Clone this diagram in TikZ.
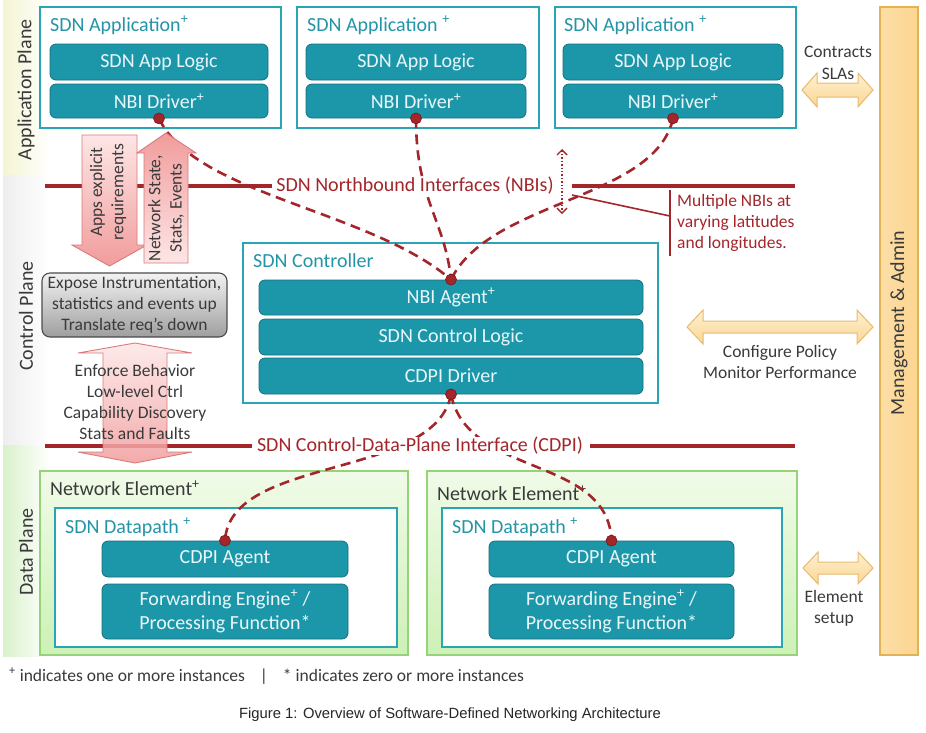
\documentclass[tikz,border=0pt]{standalone}
\usepackage{fontspec}
\setmainfont{Carlito}
\newfontfamily\capfont{Liberation Sans}
\usetikzlibrary{arrows.meta}

\definecolor{tealfill}{HTML}{1C97A9}
\definecolor{tealdark}{HTML}{14707F}
\definecolor{tealline}{HTML}{2AA5B5}
\definecolor{tealtext}{HTML}{2395A7}
\definecolor{boxtext}{HTML}{EAF7FA}
\definecolor{nbired}{HTML}{A3262B}
\definecolor{dotline}{HTML}{7A1518}
\definecolor{pinkdark}{HTML}{F19C9C}
\definecolor{pinklight}{HTML}{FDE6E6}
\definecolor{pinkline}{HTML}{D97A7A}
\definecolor{mgmtfill}{HTML}{FCD590}
\definecolor{mgmtline}{HTML}{E2B255}
\definecolor{orlight}{HTML}{FEF0D4}
\definecolor{orfill}{HTML}{FBD690}
\definecolor{orline}{HTML}{E6BA70}
\definecolor{nelight}{HTML}{F0FBE8}
\definecolor{nedark}{HTML}{CDF1B6}
\definecolor{neline}{HTML}{95D27A}
\definecolor{appband}{HTML}{F4F5D2}
\definecolor{ctrlband}{HTML}{EEEEEE}
\definecolor{databand}{HTML}{D9F2CA}
\definecolor{txtgray}{HTML}{3A3A3A}

\newcommand{\bigtxt}{\fontsize{20}{24}\selectfont}
\newcommand{\smalltxt}{\fontsize{17.5}{21.3}\selectfont}

\begin{document}
\begin{tikzpicture}[ x = 1pt, y = -1pt,
		appbox/.style = { draw = tealline, line width = 1.8pt, fill = white, inner sep = 0 },
		tealbox/.style = { draw = tealdark, fill = tealfill, line width = 0.8pt, rounded corners = 6pt, text = boxtext, font = \bigtxt, align = center, minimum height = 36pt, inner sep = 0 },
		title/.style = { anchor = west, font = \bigtxt, text = tealtext, inner sep = 0 },
		nebox/.style = { draw = neline, line width = 1.2pt, top color = nelight, bottom color = nedark, inner sep = 0 },
		planelabel/.style = { rotate = 90, font = \bigtxt, text = txtgray },
		note/.style = { font = \smalltxt, text = txtgray, align = center, inner sep = 0 },
		ifline/.style = { nbired, line width = 4pt },
		iftext/.style = { font = \bigtxt, text = nbired, fill = white, inner xsep = 4pt, inner ysep = 0pt },
		nbilink/.style = { nbired, line width = 2.6pt, dash pattern = on 10pt off 6pt },
		pinkarrow/.style = { draw = pinkline, line width = 0.9pt },
		orarrow/.style = { draw = orline, line width = 1pt, top color = orlight, bottom color = orfill },
		dotend/.style = { fill = nbired, draw = dotline, line width = 0.6pt }
	]
	\useasboundingbox ( 0, 0 ) rectangle ( 926, 732 );

	% planes
	\shade [ left color = appband, right color = white ] ( 3, 0 ) rectangle ( 50, 175 );
	\shade [ left color = ctrlband, right color = white ] ( 3, 175 ) rectangle ( 50, 445 );
	\shade [ left color = databand, right color = white ] ( 3, 445 ) rectangle ( 50, 656 );
	\node [ planelabel ] (appplane) at ( 26, 90 ) {Application Plane};
	\node [ planelabel ] (ctrlplane) at ( 26, 316 ) {Control Plane};
	\node [ planelabel ] (dataplane) at ( 26, 552 ) {Data Plane};

	% management
	\node [ draw = mgmtline, line width = 1.2pt, left color = orfill!80!white, right color = mgmtfill, minimum width = 38pt, minimum height = 648pt, inner sep = 0 ] (mgmt) at ( 899, 331 ) {};
	\node [ planelabel ] (mgmtlabel) at ( 899, 323 ) {Management \& Admin};

	% applications
	\node [ appbox, minimum width = 241pt, minimum height = 121pt ] (app1) at ( 160.5, 67.5 ) {};
	\node [ title ] (app1title) at ( 50, 25 ) {SDN Application\textsuperscript{+}};
	\node [ tealbox, minimum width = 218pt ] (logic1) at ( 159, 62 ) {SDN App Logic};
	\node [ tealbox, minimum width = 218pt, minimum height = 34pt ] (drv1) at ( 159, 101 ) {NBI Driver\textsuperscript{+}};

	\node [ appbox, minimum width = 242pt, minimum height = 121pt ] (app2) at ( 418, 67.5 ) {};
	\node [ title ] (app2title) at ( 307, 25 ) {SDN Application \textsuperscript{+}};
	\node [ tealbox, minimum width = 220pt ] (logic2) at ( 416, 62 ) {SDN App Logic};
	\node [ tealbox, minimum width = 220pt, minimum height = 34pt ] (drv2) at ( 416, 101 ) {NBI Driver\textsuperscript{+}};

	\node [ appbox, minimum width = 241pt, minimum height = 121pt ] (app3) at ( 675.5, 67.5 ) {};
	\node [ title ] (app3title) at ( 564, 25 ) {SDN Application \textsuperscript{+}};
	\node [ tealbox, minimum width = 220pt ] (logic3) at ( 673, 62 ) {SDN App Logic};
	\node [ tealbox, minimum width = 220pt, minimum height = 34pt ] (drv3) at ( 673, 101 ) {NBI Driver\textsuperscript{+}};

	% controller
	\node [ appbox, minimum width = 415pt, minimum height = 160pt ] (ctrl) at ( 450.5, 323 ) {};
	\node [ title ] (ctrltitle) at ( 253, 261 ) {SDN Controller};
	\node [ tealbox, minimum width = 384pt, minimum height = 35pt ] (nbiagent) at ( 451, 297.5 ) {NBI Agent\textsuperscript{+}};
	\node [ tealbox, minimum width = 384pt ] (ctrllogic) at ( 451, 337 ) {SDN Control Logic};
	\node [ tealbox, minimum width = 384pt ] (cdpidrv) at ( 451, 376 ) {CDPI Driver};

	% network elements
	\node [ nebox, minimum width = 368pt, minimum height = 184pt ] (ne1) at ( 224, 563 ) {};
	\node [ title, text = txtgray ] (ne1title) at ( 50, 488 ) {Network Element\textsuperscript{+}};
	\node [ appbox, minimum width = 342pt, minimum height = 139pt ] (dp1) at ( 226, 577.5 ) {};
	\node [ title ] (dp1title) at ( 65, 527 ) {SDN Datapath \textsuperscript{+}};
	\node [ tealbox, minimum width = 246pt ] (agent1) at ( 225, 559 ) {CDPI Agent};
	\node [ tealbox, minimum width = 246pt, minimum height = 55pt ] (fwd1) at ( 225, 611.5 ) {Forwarding Engine\textsuperscript{+} /\\Processing Function*};

	\node [ nebox, minimum width = 370pt, minimum height = 184pt ] (ne2) at ( 612, 563 ) {};
	\node [ title, text = txtgray ] (ne2title) at ( 437, 493 ) {Network Element\textsuperscript{+}};
	\node [ appbox, minimum width = 340pt, minimum height = 139pt ] (dp2) at ( 612, 577.5 ) {};
	\node [ title ] (dp2title) at ( 452, 527 ) {SDN Datapath \textsuperscript{+}};
	\node [ tealbox, minimum width = 245pt ] (agent2) at ( 611.5, 559 ) {CDPI Agent};
	\node [ tealbox, minimum width = 245pt, minimum height = 55pt ] (fwd2) at ( 611.5, 611.5 ) {Forwarding Engine\textsuperscript{+} /\\Processing Function*};

	% NBI links
	\draw [ nbilink ] (drv1.south) .. controls ( 195, 195 ) and ( 370, 210 ) .. (nbiagent.north);
	\draw [ nbilink ] (drv2.south) .. controls ( 416, 200 ) and ( 445, 220 ) .. (nbiagent.north);
	\draw [ nbilink ] (drv3.south) .. controls ( 655, 200 ) and ( 490, 200 ) .. (nbiagent.north);

	% CDPI links
	\draw [ nbilink ] (cdpidrv.south) .. controls ( 435, 480 ) and ( 230, 455 ) .. (agent1.north);
	\draw [ nbilink ] (cdpidrv.south) .. controls ( 468, 478 ) and ( 608, 455 ) .. (agent2.north);

	% interfaces
	\draw [ ifline ] ( 45, 186 ) -- ( 274, 186 );
	\draw [ ifline ] ( 572, 186 ) -- ( 795, 186 );
	\node [ iftext ] (nbitext) at ( 415, 186 ) {SDN Northbound Interfaces (NBIs)};
	\draw [ ifline ] ( 45, 446 ) -- ( 252, 446 );
	\draw [ ifline ] ( 590, 446 ) -- ( 795, 446 );
	\node [ iftext ] (cdpitext) at ( 420, 446 ) {SDN Control-Data-Plane Interface (CDPI)};

	% end points
	\foreach \n/\a in {drv1/south, drv2/south, drv3/south, nbiagent/north, cdpidrv/south, agent1/north, agent2/north}
		\draw [ dotend ] (\n.\a) circle [ radius = 5.5pt ];

	% multiple NBIs
	\coordinate (nbitop) at ( 562, 149 );
	\coordinate (nbibot) at ( 562, 214 );
	\draw [ nbired, line width = 1.4pt, dotted, {Straight Barb[length = 5pt, width = 10pt]}-{Straight Barb[length = 5pt, width = 10pt]} ] (nbitop) -- (nbibot);
	\coordinate (calltip) at ( 572, 195 );
	\coordinate (callmid) at ( 670, 216 );
	\draw [ nbired, line width = 1.6pt ] (calltip) -- (callmid);
	\draw [ nbired, line width = 1.6pt ] ( 670, 190 ) -- ( 670, 256 );
	\node [ note, text = nbired, anchor = west, align = left ] (multinbi) at ( 677, 223 ) {Multiple NBIs at\\varying latitudes\\and longitudes.};

	% pink arrows
	\draw [ pinkarrow, top color = pinklight, bottom color = pinkdark ] ( 82, 135 ) -- ( 137, 135 ) -- ( 137, 245 ) -- ( 147, 245 ) -- ( 109.5, 266 ) -- ( 72, 245 ) -- ( 82, 245 ) -- cycle;
	\draw [ pinkarrow, top color = pinkdark, bottom color = pinklight ] ( 144, 263 ) -- ( 144, 153 ) -- ( 137, 153 ) -- ( 166, 133 ) -- ( 196, 153 ) -- ( 188, 153 ) -- ( 188, 263 ) -- cycle;
	\node [ note, rotate = 90 ] (appsreq) at ( 108, 192 ) {Apps explicit\\requirements};
	\node [ note, rotate = 90 ] (netstate) at ( 166, 208 ) {Network State,\\Stats, Events};

	\node [ draw = black!70, line width = 1.1pt, rounded corners = 8pt, top color = black!5, bottom color = black!38, minimum width = 185pt, minimum height = 64pt, note, font = \fontsize{17.5}{21}\selectfont ] (expose) at ( 134.5, 305 ) {Expose Instrumentation,\\statistics and events up\\Translate req’s down};

	\draw [ pinkarrow, fill opacity = 0.85, top color = pinklight, bottom color = pinkdark ] ( 135, 343 ) -- ( 192, 353 ) -- ( 167, 353 ) -- ( 167, 452 ) -- ( 192, 452 ) -- ( 135, 463 ) -- ( 78, 452 ) -- ( 103, 452 ) -- ( 103, 353 ) -- ( 78, 353 ) -- cycle;
	\node [ note ] (enforce) at ( 135, 402 ) {Enforce Behavior\\Low-level Ctrl\\Capability Discovery\\Stats and Faults};

	% orange arrows
	\draw [ orarrow ] ( 802, 90 ) -- ( 817, 73 ) -- ( 817, 83 ) -- ( 858, 83 ) -- ( 858, 73 ) -- ( 873, 90 ) -- ( 858, 107 ) -- ( 858, 97 ) -- ( 817, 97 ) -- ( 817, 107 ) -- cycle;
	\node [ note ] (contracts) at ( 838, 63 ) {Contracts\\SLAs};
	\draw [ orarrow ] ( 687, 327 ) -- ( 703, 310 ) -- ( 703, 321 ) -- ( 857, 321 ) -- ( 857, 310 ) -- ( 873, 327 ) -- ( 857, 344 ) -- ( 857, 333 ) -- ( 703, 333 ) -- ( 703, 344 ) -- cycle;
	\node [ note ] (configure) at ( 780, 362 ) {Configure Policy\\Monitor Performance};
	\draw [ orarrow ] ( 803, 568 ) -- ( 818, 552 ) -- ( 818, 562 ) -- ( 858, 562 ) -- ( 858, 552 ) -- ( 873, 568 ) -- ( 858, 584 ) -- ( 858, 574 ) -- ( 818, 574 ) -- ( 818, 584 ) -- cycle;
	\node [ note ] (elemsetup) at ( 834, 608 ) {Element\\setup};

	% legend and caption
	\node [ note, anchor = west ] (legend) at ( 9, 676 ) {\textsuperscript{+} indicates one or more instances\hspace{15pt}|\hspace{15pt}* indicates zero or more instances};
	\node [ font = \capfont\fontsize{14.8}{18}\selectfont, text = black!85 ] (caption) at ( 450, 715 ) {Figure 1: Overview of Software-Defined Networking Architecture};
\end{tikzpicture}
\end{document}
